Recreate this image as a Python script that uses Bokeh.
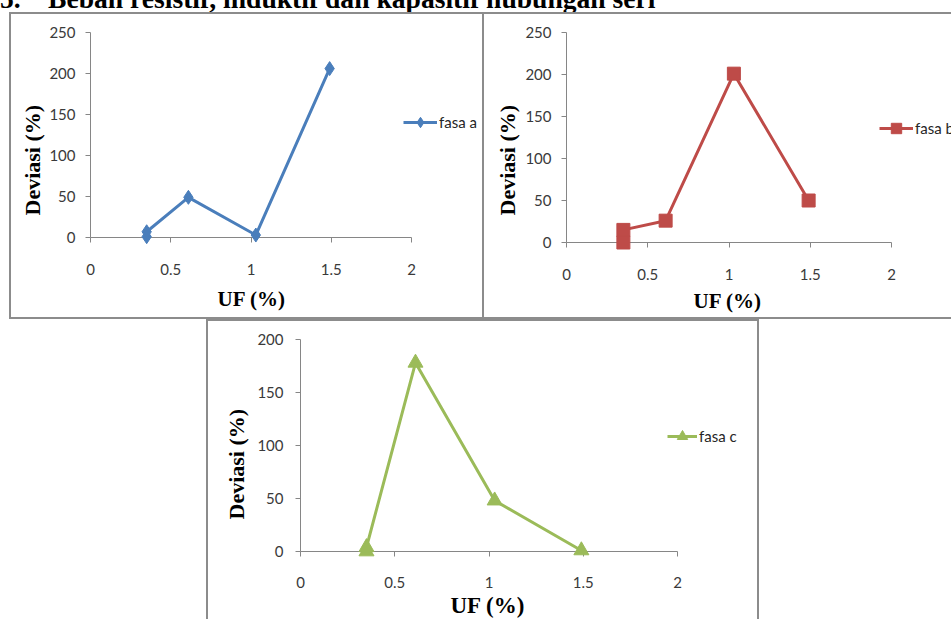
from bokeh.plotting import figure
from bokeh.layouts import column, row
from bokeh.models import Range1d, FixedTicker, Legend, LegendItem, Div, Spacer, Title
from bokeh.embed import file_html
from bokeh.resources import INLINE

# ---------------- data ----------------
title_number = "5."
title_text = "Beban resistif, induktif dan kapasitif hubungan seri"
x_label = "UF (%)"
y_label = "Deviasi (%)"

x_ticks = [0, 0.5, 1, 1.5, 2]
x_tick_labels = ["0", "0.5", "1", "1.5", "2"]
y_ticks_ab = [0, 50, 100, 150, 200, 250]
y_ticks_c = [0, 50, 100, 150, 200]

uf_a = [0.35, 0.35, 0.61, 1.03, 1.49]
dev_a = [1, 7, 49, 3, 206]

uf_b = [0.35, 0.35, 0.61, 1.03, 1.49]
dev_b = [0, 15, 26, 201, 50]

uf_c = [0.35, 0.35, 0.61, 1.03, 1.49]
dev_c = [0, 4, 178, 48, 1]

names = ["fasa a", "fasa b", "fasa c"]

AXIS_GRAY = "#868686"
BORDER = "#8c8c8c"
X_MAX = 2


def panel(xs, ys, color, marker, msize, label, ymax, yticks,
          W, H, ml, axis_px, mt, mb, legend_xy, glyph_w,
          xlab_standoff, xtitle_offset, xtitle_standoff, xtitle_size,
          ylab_standoff, ytitle_standoff, ytitle_offset, shadow):
    # the frame runs to the right edge of the canvas so that the legend
    # (which sits right of the x = 2 tick) is not clipped; the axis is bounded to 0..2
    x_end = X_MAX * (W - ml) / axis_px
    p = figure(width=W, height=H, x_range=Range1d(0, x_end), y_range=Range1d(0, ymax),
               output_backend="svg", toolbar_location=None,
               min_border_left=ml, min_border_right=0,
               min_border_top=mt, min_border_bottom=mb)
    if "frame_align" in p.properties():
        p.frame_align = False
    p.background_fill_color = None
    p.border_fill_color = None
    p.outline_line_color = None
    p.grid.visible = False
    p.styles = {"box-shadow": shadow}

    for ax in (p.xaxis[0], p.yaxis[0]):
        ax.axis_line_color = AXIS_GRAY
        ax.axis_line_width = 1
        ax.major_tick_line_color = AXIS_GRAY
        ax.major_tick_out = 5
        ax.major_tick_in = 0
        ax.minor_tick_line_color = None
        ax.major_label_text_font = "Lato"
        ax.major_label_text_font_size = "15px"
        ax.major_label_text_color = "#3a3a3a"

    p.xaxis.ticker = FixedTicker(ticks=x_ticks)
    p.xaxis.bounds = (0, X_MAX)
    p.xaxis.major_label_overrides = {t: s for t, s in zip(x_ticks, x_tick_labels)}
    p.xaxis.major_label_standoff = xlab_standoff

    p.yaxis.ticker = FixedTicker(ticks=yticks)
    p.yaxis.major_label_standoff = ylab_standoff

    xtitle = Title(text=x_label, align="left", offset=xtitle_offset,
                   standoff=xtitle_standoff, vertical_align="middle",
                   text_font="Liberation Serif", text_font_style="bold",
                   text_font_size=xtitle_size, text_color="#000000")
    p.add_layout(xtitle, "below")

    ytitle = Title(text=y_label, align="left", offset=ytitle_offset,
                   standoff=ytitle_standoff, text_font="Liberation Serif",
                   text_font_style="bold", text_font_size="22px",
                   text_color="#000000")
    p.add_layout(ytitle, "left")

    r_line = p.line(xs, ys, line_color=color, line_width=3)
    r_pts = p.scatter(xs, ys, marker=marker, size=msize, fill_color=color,
                      line_color=color, level="overlay")

    leg = Legend(items=[LegendItem(label=label, renderers=[r_line, r_pts])],
                 location=legend_xy, orientation="vertical",
                 border_line_color=None, background_fill_alpha=0,
                 padding=0, margin=0, spacing=0,
                 glyph_width=glyph_w, glyph_height=26, label_height=20,
                 label_standoff=2, label_text_font="Lato",
                 label_text_font_size="15px", label_text_color="#262626")
    p.add_layout(leg)
    return p


pA = panel(uf_a, dev_a, "#4A7EBB", "diamond", 14, names[0], 250, y_ticks_ab,
           475, 307, 81, 321, 20, 82, (313, 102), 34,
           21, 127, 16, "21px", 10, 4, 22, f"inset 0 0 0 2px {BORDER}")
pB = panel(uf_b, dev_b, "#BE4B48", "square", 13, names[1], 250, y_ticks_ab,
           467, 307, 82, 325, 20, 77, (313, 101), 34,
           21, 127, 11, "21px", 10, 6, 27, f"inset 0 2px 0 {BORDER}, inset 0 -2px 0 {BORDER}")
pC = panel(uf_c, dev_c, "#9BBB59", "triangle", 15, names[2], 200, y_ticks_c,
           553, 300, 94, 377, 20, 67, (367, 102), 30,
           20, 150, 2, "23px", 12, 12, 32, f"inset 2px 2px 0 {BORDER}, inset -2px 0 0 {BORDER}")

title = Div(
    text=(
        '<div style="position:relative;top:-15px;white-space:nowrap;'
        "font-family:'Liberation Serif';font-weight:bold;font-size:27.6px;"
        'line-height:1;color:#000">'
        f'<span style="display:inline-block;width:48px">{title_number}</span>{title_text}</div>'
    ),
    width=951, height=12, margin=0,
)

layout = column(
    title,
    row(Spacer(width=9, height=307), pA, pB),
    row(Spacer(width=206, height=300), pC),
)

open("out.html", "w").write(file_html(layout, INLINE))
